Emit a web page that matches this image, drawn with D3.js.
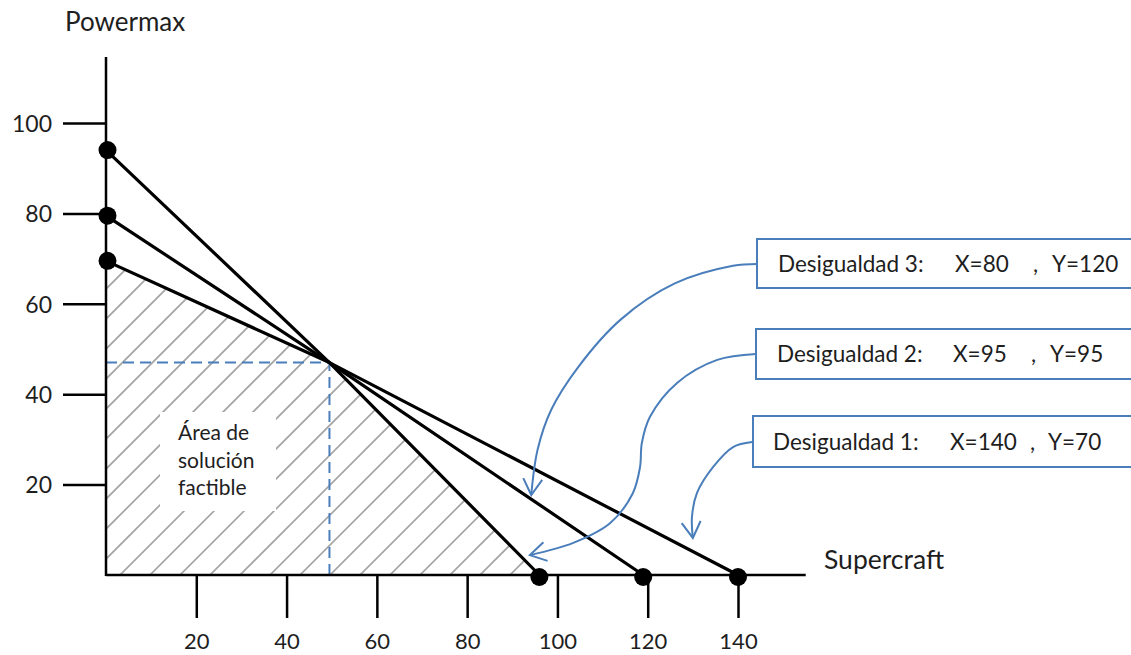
<!DOCTYPE html>
<html>
<head>
<meta charset="utf-8">
<script src="https://cdn.jsdelivr.net/npm/d3@7"></script>
<style>
  html, body { margin: 0; padding: 0; background: #fff; }
  svg { display: block; }
  text { font-family: Lato, "Open Sans", sans-serif; fill: #1e1e1e; }
</style>
</head>
<body>
<svg id="chart" width="1131" height="655"></svg>
<script>
// ---------------- data ----------------
const xTicks = [20, 40, 60, 80, 100, 120, 140];
const yTicks = [20, 40, 60, 80, 100];
const xAxisTitle = "Supercraft";
const yAxisTitle = "Powermax";
const constraintNames = ["Desigualdad 3", "Desigualdad 2", "Desigualdad 1"];
const yIntercepts = [94, 79.5, 69.5];     // points on the Powermax axis
const xIntercepts = [96, 119, 140];       // points on the Supercraft axis
const crossPoint = [49.5, 47];            // common intersection
const boxTitles = ["Desigualdad 3:", "Desigualdad 2:", "Desigualdad 1:"];
const boxXText = ["X=80", "X=95", "X=140"];
const boxYText = ["Y=120", "Y=95", "Y=70"];
const areaLabel = ["Área de", "solución", "factible"];
// arrow waypoints (data units) from each box to its line
const arrow3 = [[144.2, 68.8], [138.9, 68.4], [126.0, 64.5], [114.0, 56.5], [104.6, 46.0], [98.6, 36.5], [95.6, 27.7], [94.2, 17.7]];
const arrow2 = [[144.0, 48.9], [135.4, 47.6], [126.5, 42.5], [120.5, 35.0], [118.7, 29.2], [118.3, 23.9], [116.7, 18.1], [111.7, 11.5], [103.5, 7.1], [93.9, 4.4]];
const arrow1 = [[143.1, 29.4], [138.9, 28.3], [134.5, 23.9], [130.9, 18.1], [129.8, 12.8], [130.0, 8.2]];

// ---------------- layout ----------------
const svg = d3.select("#chart");
const x = d3.scaleLinear().domain([0, 140]).range([106, 738]);
const y = d3.scaleLinear().domain([0, 100]).range([575, 123]);
const axisEndX = 155, axisEndY = 114.6;
const blue = "#4a7ebb";

// defs
const defs = svg.append("defs");
const feasible = [[0, 0], [0, yIntercepts[2]], crossPoint, [xIntercepts[0], 0]];
defs.append("clipPath").attr("id", "feasClip")
  .append("path")
  .attr("d", d3.line().x(d => x(d[0])).y(d => y(d[1]))(feasible) + "Z");
defs.append("marker")
  .attr("id", "vhead").attr("viewBox", "-20 -12 24 24")
  .attr("refX", 0).attr("refY", 0)
  .attr("markerWidth", 24).attr("markerHeight", 24)
  .attr("markerUnits", "userSpaceOnUse").attr("orient", "auto")
  .append("path").attr("d", "M-16,-9.5L0,0L-16,9.5")
  .attr("fill", "none").attr("stroke", blue).attr("stroke-width", 2);

// hatch
const hatch = svg.append("g").attr("clip-path", "url(#feasClip)");
const hatchStarts = d3.range(-400, 700, 30).map(v => v + 100);
hatch.selectAll("line").data(hatchStarts).enter().append("line")
  .attr("x1", d => d - 20).attr("y1", y(0) + 20)
  .attr("x2", d => d + 500).attr("y2", y(0) - 500)
  .attr("stroke", "#a4a4a4").attr("stroke-width", 1.7);

// white panel behind area label
svg.append("rect").attr("x", 160).attr("y", 412).attr("width", 116).attr("height", 99).attr("fill", "#fff");
svg.append("g").selectAll("text").data(areaLabel).enter().append("text")
  .attr("x", 178).attr("y", (d, i) => 440 + i * 27.5)
  .attr("font-size", 21).text(d => d);

// dashed guides
svg.append("path")
  .attr("d", `M${x(0)},${y(crossPoint[1])}H${x(crossPoint[0])}V${y(0)}`)
  .attr("fill", "none").attr("stroke", blue).attr("stroke-width", 2)
  .attr("stroke-dasharray", "11,6");

// axes
const xAxis = d3.axisBottom(x).tickValues(xTicks).tickSizeInner(43).tickSizeOuter(0).tickFormat(d3.format("d"));
const gx = svg.append("g").attr("transform", `translate(0,${y(0)})`).call(xAxis);
gx.select(".domain").remove();
gx.selectAll(".tick line").attr("stroke", "#000").attr("stroke-width", 2.5);
gx.selectAll(".tick text").attr("y", 74).attr("dy", 0).attr("font-size", 22)
  .attr("font-family", "Lato, 'Open Sans', sans-serif").attr("fill", "#1e1e1e");

const yAxis = d3.axisLeft(y).tickValues(yTicks).tickSizeInner(43).tickSizeOuter(0).tickFormat(d3.format("d"));
const gy = svg.append("g").attr("transform", `translate(${x(0)},0)`).call(yAxis);
gy.select(".domain").remove();
gy.selectAll(".tick line").attr("stroke", "#000").attr("stroke-width", 2.5);
gy.selectAll(".tick text").attr("x", -54).attr("dy", "0.36em").attr("font-size", 23)
  .attr("font-family", "Lato, 'Open Sans', sans-serif").attr("fill", "#1e1e1e");

svg.append("line").attr("x1", x(0)).attr("x2", x(axisEndX)).attr("y1", y(0)).attr("y2", y(0))
  .attr("stroke", "#000").attr("stroke-width", 2.5);
svg.append("line").attr("x1", x(0)).attr("x2", x(0)).attr("y1", y(0) + 1).attr("y2", y(axisEndY))
  .attr("stroke", "#000").attr("stroke-width", 2.5);

svg.append("text").attr("x", 65).attr("y", 31).attr("font-size", 26).text(yAxisTitle);
svg.append("text").attr("x", 824).attr("y", 569).attr("font-size", 26.5).text(xAxisTitle);

// constraint lines
const line = d3.line().x(d => x(d[0])).y(d => y(d[1]));
const constraints = constraintNames.map((n, i) => ({
  name: n,
  pts: [[0, yIntercepts[i]], crossPoint, [xIntercepts[i], 0]]
}));
svg.append("g").selectAll("path").data(constraints).enter().append("path")
  .attr("d", d => line(d.pts)).attr("fill", "none")
  .attr("stroke", "#000").attr("stroke-width", 3.2).attr("stroke-linejoin", "round");

// dots
svg.append("g").selectAll("circle").data(yIntercepts).enter().append("circle")
  .attr("cx", x(0) + 1.5).attr("cy", d => y(d)).attr("r", 9).attr("fill", "#000");
svg.append("g").selectAll("circle").data(xIntercepts).enter().append("circle")
  .attr("cx", d => x(d)).attr("cy", y(0) + 2).attr("r", 9).attr("fill", "#000");

// arrows
const curve = d3.line().x(d => x(d[0])).y(d => y(d[1])).curve(d3.curveCatmullRom.alpha(0.5));
svg.append("g").selectAll("path").data([arrow3, arrow2, arrow1]).enter().append("path")
  .attr("d", d => curve(d)).attr("fill", "none").attr("stroke", blue)
  .attr("stroke-width", 2).attr("marker-end", "url(#vhead)");

// label boxes
const boxes = [
  { top: 239, left: 757, h: 49, tx: 778, xx: 955, cx: 1033, yx: 1052 },
  { top: 329, left: 756, h: 50, tx: 777, xx: 953, cx: 1031, yx: 1050 },
  { top: 416, left: 753, h: 51, tx: 773, xx: 950, cx: 1030, yx: 1048 }
];
const bg = svg.append("g").selectAll("g").data(boxes).enter().append("g");
bg.append("rect").attr("x", d => d.left).attr("y", d => d.top)
  .attr("width", d => 1140 - d.left).attr("height", d => d.h)
  .attr("fill", "#fff").attr("stroke", blue).attr("stroke-width", 2);
const fs = 22.5;
bg.append("text").attr("x", d => d.tx).attr("y", d => d.top + d.h / 2 + 8)
  .attr("font-size", fs).text((d, i) => boxTitles[i]);
bg.append("text").attr("x", d => d.xx).attr("y", d => d.top + d.h / 2 + 8)
  .attr("font-size", fs).text((d, i) => boxXText[i]);
bg.append("text").attr("x", d => d.cx).attr("y", d => d.top + d.h / 2 + 8)
  .attr("font-size", fs).text(",");
bg.append("text").attr("x", d => d.yx).attr("y", d => d.top + d.h / 2 + 8)
  .attr("font-size", fs).text((d, i) => boxYText[i]);
</script>
</body>
</html>
